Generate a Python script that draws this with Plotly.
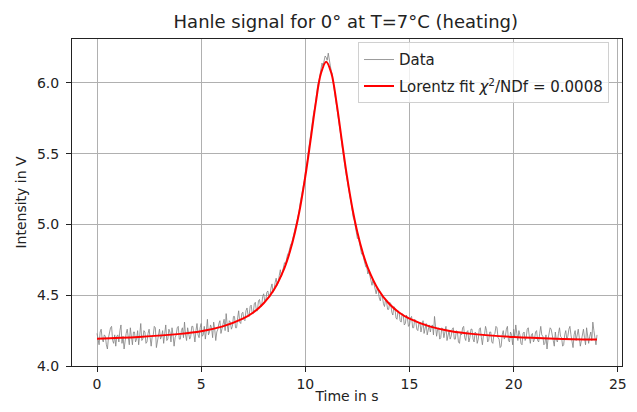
import numpy as np
import plotly.graph_objects as go

time_s = np.round(np.arange(0, 481) * 0.05, 2)
intensity_v = [
    4.23, 4.18, 4.15, 4.24, 4.26, 4.19, 4.17, 4.22, 4.21, 4.15, 4.12, 4.20, 4.24, 4.27, 4.28, 4.18, 4.16, 4.22, 4.14, 4.21,
    4.22, 4.17, 4.25, 4.29, 4.16, 4.21, 4.12, 4.19, 4.23, 4.26, 4.20, 4.15, 4.27, 4.18, 4.15, 4.24, 4.24, 4.17, 4.19, 4.25,
    4.15, 4.22, 4.30, 4.18, 4.19, 4.25, 4.24, 4.16, 4.17, 4.23, 4.26, 4.20, 4.14, 4.21, 4.22, 4.28, 4.27, 4.13, 4.18, 4.24,
    4.26, 4.19, 4.21, 4.25, 4.16, 4.23, 4.29, 4.18, 4.19, 4.26, 4.24, 4.17, 4.27, 4.22, 4.14, 4.20, 4.22, 4.27, 4.28, 4.19,
    4.19, 4.25, 4.27, 4.20, 4.31, 4.22, 4.18, 4.27, 4.24, 4.19, 4.21, 4.28, 4.28, 4.20, 4.17, 4.25, 4.30, 4.22, 4.20, 4.27,
    4.30, 4.21, 4.22, 4.28, 4.19, 4.25, 4.33, 4.22, 4.24, 4.29, 4.27, 4.20, 4.31, 4.26, 4.18, 4.24, 4.26, 4.30, 4.32, 4.23,
    4.26, 4.31, 4.33, 4.25, 4.37, 4.29, 4.24, 4.32, 4.31, 4.26, 4.28, 4.35, 4.35, 4.27, 4.27, 4.34, 4.39, 4.31, 4.30, 4.37,
    4.38, 4.33, 4.32, 4.39, 4.41, 4.36, 4.35, 4.42, 4.43, 4.37, 4.37, 4.44, 4.45, 4.39, 4.39, 4.46, 4.47, 4.42, 4.42, 4.49,
    4.51, 4.46, 4.46, 4.52, 4.53, 4.49, 4.49, 4.55, 4.58, 4.52, 4.54, 4.59, 4.62, 4.57, 4.59, 4.64, 4.68, 4.63, 4.66, 4.71,
    4.73, 4.72, 4.77, 4.79, 4.80, 4.84, 4.86, 4.87, 4.90, 4.95, 4.97, 4.99, 5.03, 5.07, 5.09, 5.15, 5.19, 5.21, 5.26, 5.31,
    5.37, 5.40, 5.45, 5.52, 5.58, 5.60, 5.66, 5.73, 5.79, 5.82, 5.88, 5.94, 5.99, 6.01, 6.06, 6.11, 6.14, 6.12, 6.15, 6.19,
    6.18, 6.16, 6.21, 6.15, 6.12, 6.08, 6.06, 5.99, 5.94, 5.91, 5.86, 5.78, 5.73, 5.70, 5.63, 5.57, 5.50, 5.47, 5.41, 5.36,
    5.31, 5.28, 5.22, 5.19, 5.15, 5.08, 5.05, 5.03, 4.99, 4.93, 4.90, 4.91, 4.87, 4.81, 4.79, 4.79, 4.76, 4.72, 4.70, 4.70,
    4.65, 4.67, 4.63, 4.59, 4.57, 4.61, 4.58, 4.53, 4.51, 4.55, 4.53, 4.48, 4.46, 4.51, 4.49, 4.44, 4.42, 4.47, 4.45, 4.40,
    4.40, 4.45, 4.44, 4.38, 4.36, 4.42, 4.41, 4.34, 4.33, 4.39, 4.38, 4.32, 4.31, 4.37, 4.36, 4.29, 4.30, 4.36, 4.34, 4.28,
    4.29, 4.34, 4.35, 4.27, 4.27, 4.33, 4.32, 4.26, 4.25, 4.30, 4.31, 4.24, 4.28, 4.32, 4.23, 4.27, 4.30, 4.22, 4.26, 4.29,
    4.24, 4.28, 4.29, 4.22, 4.35, 4.27, 4.21, 4.26, 4.27, 4.19, 4.20, 4.27, 4.26, 4.20, 4.23, 4.28, 4.18, 4.22, 4.25, 4.19,
    4.21, 4.26, 4.27, 4.19, 4.19, 4.25, 4.24, 4.17, 4.16, 4.23, 4.22, 4.27, 4.28, 4.20, 4.18, 4.24, 4.25, 4.17, 4.20, 4.26,
    4.26, 4.19, 4.17, 4.24, 4.23, 4.16, 4.19, 4.26, 4.27, 4.20, 4.15, 4.22, 4.22, 4.28, 4.25, 4.17, 4.18, 4.24, 4.24, 4.17,
    4.16, 4.22, 4.23, 4.28, 4.27, 4.20, 4.19, 4.13, 4.14, 4.22, 4.25, 4.19, 4.21, 4.26, 4.28, 4.18, 4.17, 4.24, 4.22, 4.15,
    4.26, 4.20, 4.29, 4.23, 4.18, 4.25, 4.22, 4.16, 4.15, 4.23, 4.24, 4.18, 4.20, 4.26, 4.27, 4.21, 4.16, 4.22, 4.23, 4.17,
    4.19, 4.24, 4.25, 4.18, 4.17, 4.23, 4.28, 4.22, 4.21, 4.15, 4.16, 4.22, 4.12, 4.19, 4.23, 4.27, 4.26, 4.20, 4.18, 4.14,
    4.24, 4.18, 4.17, 4.23, 4.27, 4.21, 4.20, 4.14, 4.15, 4.22, 4.25, 4.19, 4.21, 4.26, 4.28, 4.22, 4.16, 4.13, 4.22, 4.25,
    4.18, 4.23, 4.26, 4.20, 4.14, 4.18, 4.23, 4.26, 4.20, 4.15, 4.27, 4.22, 4.16, 4.21, 4.24, 4.18, 4.31, 4.25, 4.19, 4.15,
    4.22,
]

# Lorentz fit curve
fit_t = [0, 2, 4, 5, 6, 7, 7.5, 8, 8.5, 9, 9.25, 9.5, 9.75, 10, 10.25, 10.5, 10.75,
         11, 11.25, 11.5, 11.75, 12, 12.25, 12.5, 12.75, 13, 13.5, 14, 14.5, 15,
         16, 17, 18, 20, 22, 24]
fit_v = [4.193, 4.205, 4.227, 4.246, 4.278, 4.334, 4.378, 4.443, 4.541, 4.694,
         4.803, 4.943, 5.120, 5.339, 5.594, 5.857, 6.068,
         6.150, 6.068, 5.857, 5.594, 5.339, 5.120, 4.943, 4.803, 4.694, 4.541,
         4.443, 4.378, 4.334, 4.278, 4.246, 4.227, 4.205, 4.193, 4.187]

font = "DejaVu Sans"
ink = '#222'

fig = go.Figure()
fig.add_trace(go.Scatter(
    x=time_s, y=intensity_v, mode='lines', name='Data', legendgroup='data',
    line=dict(color='gray', width=0.8)
))
fig.add_trace(go.Scatter(
    x=fit_t, y=fit_v, mode='lines', name='Lorentz fit <i>χ</i><sup>2</sup>/NDf = 0.0008',
    legendgroup='fit',
    line=dict(color='red', width=2, shape='spline', smoothing=1.0)
))

axis_style = dict(
    showline=True, mirror=True, linecolor=ink, linewidth=1,
    showgrid=True, gridcolor='#b0b0b0', gridwidth=0.8,
    ticks='outside', ticklen=5, tickcolor=ink, zeroline=False, automargin=False,
    tickfont=dict(family=font, size=14, color=ink),
)

# the page body adds an 8px margin, so the figure is drawn 8px smaller
fig.update_layout(
    width=621, height=396,
    paper_bgcolor='white', plot_bgcolor='white',
    margin=dict(l=64, r=7, t=31, b=38),
    title=dict(text='Hanle signal for 0° at T=7°C (heating)', x=0.544, xanchor='center',
               y=0.966, yanchor='middle', font=dict(family=font, size=18, color=ink)),
    font=dict(family=font, size=14, color=ink),
    showlegend=True,
    legend=dict(x=0.52, y=0.99, xanchor='left', yanchor='top', tracegroupgap=4,
                bgcolor='rgba(255,255,255,0.8)', bordercolor='#d0d0d0', borderwidth=1,
                font=dict(family=font, size=15, color=ink)),
)
fig.update_xaxes(range=[-1.2, 25.2], dtick=5, title=dict(text='Time in s', standoff=3,
                 font=dict(family=font, size=14, color=ink)), **axis_style)
fig.update_yaxes(range=[4.0, 6.31], tickvals=[4.0, 4.5, 5.0, 5.5, 6.0], tickformat='.1f',
                 ticklabelstandoff=4,
                 title=dict(text='Intensity in V', standoff=7,
                            font=dict(family=font, size=14, color=ink)), **axis_style)

fig.write_html("out.html")
